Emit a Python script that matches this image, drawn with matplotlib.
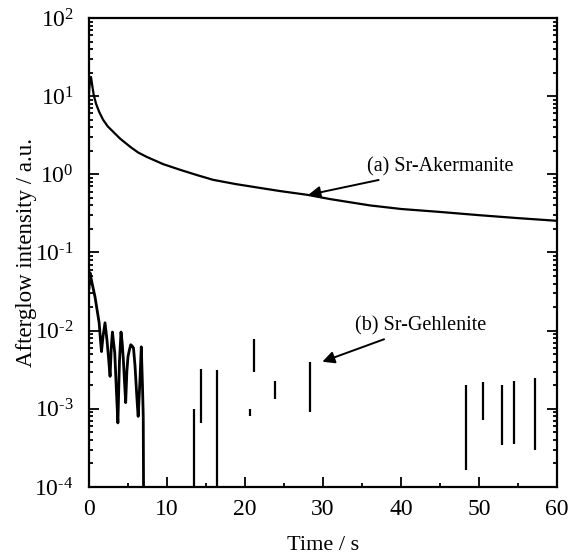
import numpy as np
import matplotlib
matplotlib.use('Agg')
import matplotlib.pyplot as plt
from matplotlib.ticker import LogLocator, MultipleLocator, NullFormatter, FuncFormatter

plt.rcParams['font.family'] = 'Liberation Serif'
plt.rcParams['mathtext.fontset'] = 'custom'
plt.rcParams['mathtext.rm'] = 'Liberation Serif'
plt.rcParams['mathtext.it'] = 'Liberation Serif'
plt.rcParams['mathtext.default'] = 'regular'

#######################################################
# (a) Sr-Akermanite decay curve
Time_A = [0.0, 0.1, 0.25, 0.4, 0.6, 0.9, 1.3, 1.8, 2.4, 3.1, 4.0, 5.3, 6.3, 7.4, 9.5,
          11.7, 13.8, 15.9, 18.8, 21.9, 24.5, 28.0, 31.0, 36.0, 40.0, 45.0, 50.0, 55.0, 60.0]
Int_A  = [11.0, 15.0, 17.6, 14.0, 10.4, 8.0, 6.3, 5.0, 4.1, 3.5, 2.85, 2.24, 1.9, 1.67, 1.35,
          1.14, 0.98, 0.85, 0.75, 0.67, 0.61, 0.546, 0.48, 0.40, 0.36, 0.33, 0.30, 0.275, 0.254]

# (b) Sr-Gehlenite, first seconds (noisy decay)
Time_B = [0.0, 0.08, 0.13, 0.2, 0.45, 0.77, 1.05, 1.3, 1.45, 1.6, 1.8, 2.05, 2.3, 2.5, 2.7,
          2.85, 3.0, 3.15, 3.3, 3.5, 3.7, 3.9, 4.1, 4.25, 4.4, 4.55, 4.7, 4.85, 5.0,
          5.2, 5.35, 5.5, 5.7, 5.9, 6.1, 6.2, 6.3, 6.5, 6.7, 6.85, 6.95, 7.0]
Int_B  = [0.035, 0.05, 0.055, 0.05, 0.038, 0.027, 0.018, 0.0126, 0.008, 0.0054, 0.0085, 0.0126,
          0.0076, 0.0045, 0.0026, 0.006, 0.0096, 0.007, 0.0052, 0.0018, 0.00066, 0.004,
          0.0096, 0.007, 0.0043, 0.0022, 0.0012, 0.003, 0.0047, 0.0058, 0.0066, 0.0064,
          0.006, 0.0035, 0.0016, 0.0011, 0.0008, 0.002, 0.0062, 0.002, 0.0008, 5e-5]

# (b) isolated bursts later on: time, top, bottom
Spike_T  = [13.4, 14.3, 16.45, 20.6, 21.1, 23.8, 28.3, 48.3, 50.5, 52.9, 54.5, 57.2]
Spike_Hi = [0.001, 0.0032, 0.0031, 0.001, 0.0079, 0.0023, 0.0040, 0.0020, 0.0022, 0.0020, 0.0023, 0.0025]
Spike_Lo = [5e-5, 0.00066, 5e-5, 0.0008, 0.0030, 0.00135, 0.0009, 0.000166, 0.00072, 0.00034, 0.00035, 0.0003]
#######################################################

def decade_label(v, pos):
    e = int(round(np.log10(v)))
    # plain hyphen for negative exponents, like the printed figure
    return '$10^{%s}$' % (str(e).replace('-', '\u2010'))

fig = plt.figure(figsize=(5.78, 5.6), dpi=100)
ax = fig.add_axes([0.154, 0.1304, 0.81, 0.8375])

ax.plot(Time_A, Int_A, color='black', lw=1.6)
ax.plot(Time_B, Int_B, color='black', lw=2.0)
ax.vlines(Spike_T, Spike_Lo, Spike_Hi, color='black', lw=1.6)

ax.set_yscale('log')
ax.set_xlim(0, 60)
ax.set_ylim(1e-4, 1e2)

ax.xaxis.set_major_locator(MultipleLocator(10))
ax.xaxis.set_minor_locator(MultipleLocator(5))
ax.yaxis.set_major_locator(LogLocator(base=10, numticks=10))
ax.yaxis.set_major_formatter(FuncFormatter(decade_label))
ax.yaxis.set_minor_locator(LogLocator(base=10, subs=np.arange(2, 10), numticks=10))
ax.yaxis.set_minor_formatter(NullFormatter())

ax.tick_params(which='both', direction='in', right=True, labelsize=17, width=1.3)
ax.tick_params(which='major', length=7)
ax.tick_params(which='minor', length=3)
ax.tick_params(axis='x', pad=9)
ax.tick_params(axis='y', pad=11)
for s in ax.spines.values():
    s.set_linewidth(1.6)

ax.set_xlabel('Time / s', fontsize=16, labelpad=11)
ax.set_ylabel('Afterglow intensity / a.u.', fontsize=16.5)
ax.yaxis.set_label_coords(-0.111, 0.5)

ax.annotate('(a) Sr-Akermanite', xy=(28.1, 0.546), xytext=(35.6, 1.24),
            fontsize=14.5, va='center', ha='left',
            arrowprops=dict(arrowstyle='-|>', color='black', lw=1.4,
                            mutation_scale=18, shrinkA=2, shrinkB=0))
ax.annotate('(b) Sr-Gehlenite', xy=(29.9, 0.0040), xytext=(34.1, 0.0115),
            fontsize=14.5, va='center', ha='left',
            arrowprops=dict(arrowstyle='-|>', color='black', lw=1.4,
                            mutation_scale=18, shrinkA=2, shrinkB=0))

fig.savefig('out.png', dpi=100)
